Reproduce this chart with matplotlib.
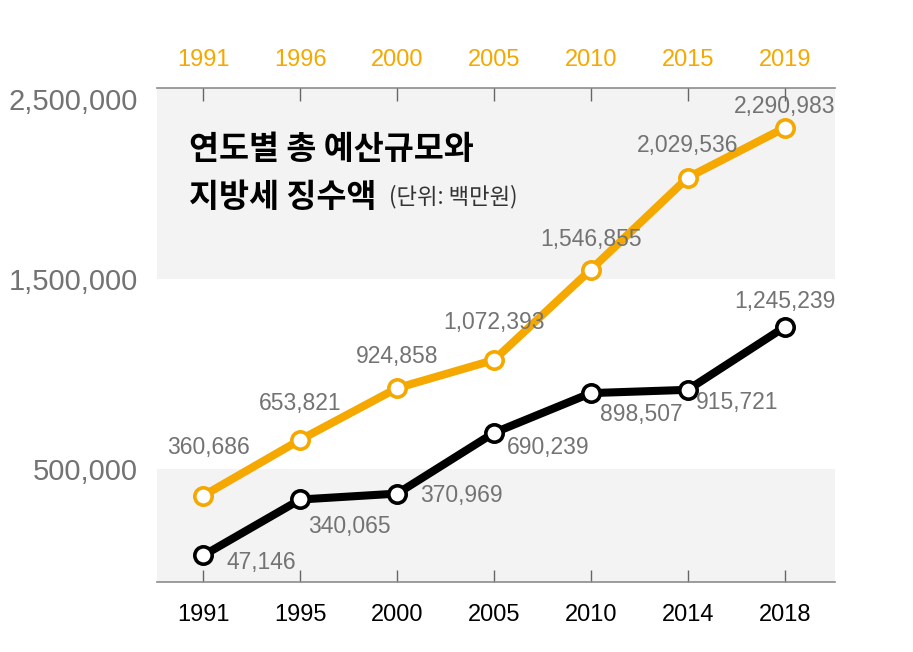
import matplotlib
matplotlib.use("Agg")
import matplotlib.pyplot as plt

plt.rcParams['font.family'] = ['Liberation Sans', 'Noto Sans CJK KR', 'DejaVu Sans']

# data
top_years = ['1991', '1996', '2000', '2005', '2010', '2015', '2019']
bottom_years = ['1991', '1995', '2000', '2005', '2010', '2014', '2018']
budget = [360686, 653821, 924858, 1072393, 1546855, 2029536, 2290983]
local_tax = [47146, 340065, 370969, 690239, 898507, 915721, 1245239]
y_ticks = [500000, 1500000, 2500000]

ORANGE = '#f5a800'
GREY_TXT = '#737373'

fig = plt.figure(figsize=(9.13, 6.52), dpi=100)
W, H = 913, 652
ax = fig.add_axes([157 / W, 1 - 582 / H, (835 - 157) / W, (582 - 88) / H])

x = list(range(len(budget)))
ax.set_xlim(-0.48, 6.52)
ax.set_ylim(-93000, 2500000)

# alternating bands
ax.axhspan(-93000, 500000, color='#f3f3f3', zorder=0, lw=0)
ax.axhspan(1500000, 2500000, color='#f3f3f3', zorder=0, lw=0)

mk = dict(marker='o', markersize=12.5, markerfacecolor='white', markeredgewidth=2.6)
ax.plot(x, budget, color=ORANGE, lw=5.8, markeredgecolor=ORANGE, zorder=3, **mk)
ax.plot(x, local_tax, color='black', lw=5.8, markeredgecolor='black', zorder=3, **mk)

# label offsets in pixels (dx, dy)
off_budget = [(5, 48), (0, 36), (0, 32), (0, 37), (0, 30), (0, 32), (0, 21)]
off_tax = [(58, -7), (49, -27), (64, -2), (54, -15), (50, -21), (49, -13), (0, 26)]
for xi, v, o in zip(x, budget, off_budget):
    ax.annotate(f'{v:,}', (xi, v), xytext=o, textcoords='offset pixels',
                ha='center', va='center', fontsize=16.5, color=GREY_TXT, zorder=4)
for xi, v, o in zip(x, local_tax, off_tax):
    ax.annotate(f'{v:,}', (xi, v), xytext=o, textcoords='offset pixels',
                ha='center', va='center', fontsize=16.5, color=GREY_TXT, zorder=4)

# axes styling
for s in ['left', 'right']:
    ax.spines[s].set_visible(False)
for s in ['top', 'bottom']:
    ax.spines[s].set_color('#8c8c8c')
    ax.spines[s].set_linewidth(1.2)

ax.set_xticks(x)
ax.set_xticklabels(bottom_years)
ax.tick_params(axis='x', direction='in', length=9, width=1, color='#666666',
               labelsize=17, labelcolor='black', pad=16)
ax.set_yticks(y_ticks)
ax.set_yticklabels([f'{t:,}' for t in y_ticks])
ax.tick_params(axis='y', length=0, labelsize=21, labelcolor=GREY_TXT, pad=14)
ax.get_yticklabels()[-1].set_va('top')

ax2 = ax.twiny()
ax2.set_xlim(ax.get_xlim())
ax2.set_xticks(x)
ax2.set_xticklabels(top_years)
ax2.tick_params(axis='x', direction='in', length=9, width=1, color='#666666',
                labelsize=17, labelcolor=ORANGE, pad=12.5)
for s in ['left', 'right', 'bottom', 'top']:
    ax2.spines[s].set_visible(False)

# title
kr = ['Noto Sans CJK KR', 'DejaVu Sans']
fig.text(189 / W, 1 - 150 / H, '연도별 총 예산규모와', fontsize=23.5, color='black',
         ha='left', va='center', fontweight='bold', family=kr)
fig.text(189 / W, 1 - 198 / H, '지방세 징수액', fontsize=23.5, color='black',
         ha='left', va='center', fontweight='bold', family=kr)
fig.text(389 / W, 1 - 197 / H, '(단위: 백만원)', fontsize=16, color='#333333',
         ha='left', va='center', fontweight='light', family=kr)

fig.savefig('out.png', dpi=100)
